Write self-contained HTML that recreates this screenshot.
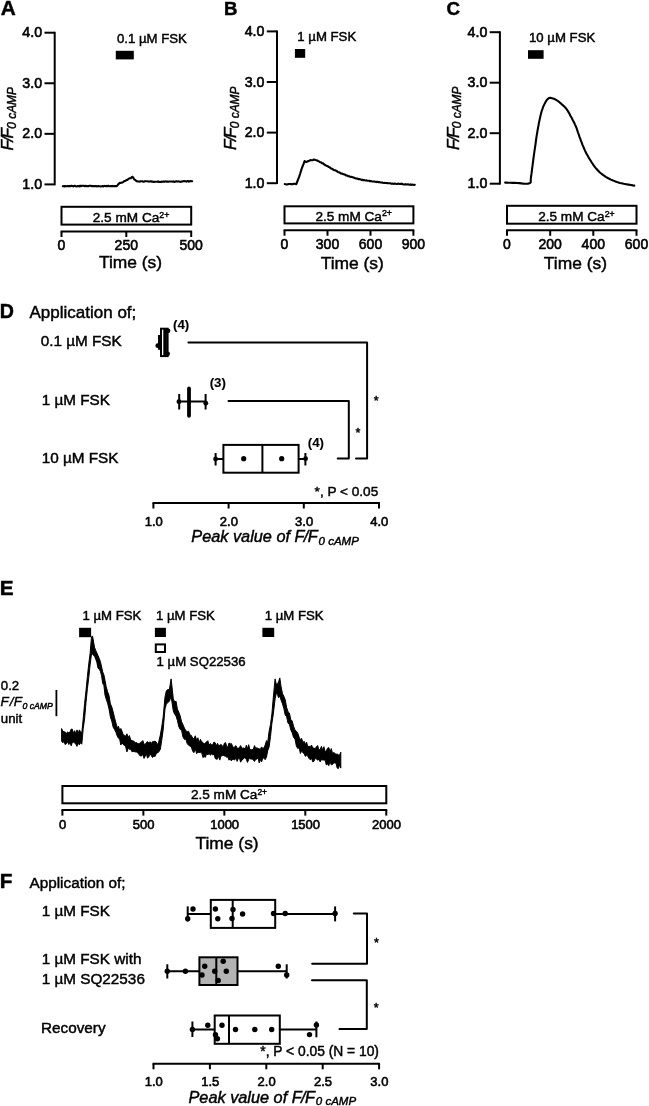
<!DOCTYPE html>
<html><head><meta charset="utf-8"><title>Figure</title>
<style>
html,body{margin:0;padding:0;background:#fff;}
svg{display:block;font-family:"Liberation Sans",Arial,sans-serif;fill:#000;}
text{stroke:#000;stroke-width:0.45px;}
.tk{stroke-width:0.6px;}
.b{stroke-width:0.1px;}
</style></head><body>
<svg width="649" height="1106" viewBox="0 0 649 1106">
<rect x="0" y="0" width="649" height="1106" fill="#fff"/>
<text x="0.8" y="15.1" font-size="20.8" text-anchor="start" font-weight="bold" font-style="normal" >A</text>
<line x1="54.7" y1="31.800000000000004" x2="54.7" y2="185.3" stroke="#000" stroke-width="2.0" />
<line x1="44.5" y1="32.7" x2="54.7" y2="32.7" stroke="#000" stroke-width="2.0" />
<text x="42.1" y="37.300000000000004" font-size="14.2" text-anchor="end" font-weight="normal" font-style="normal" class="tk">4.0</text>
<line x1="44.5" y1="83.26666666666667" x2="54.7" y2="83.26666666666667" stroke="#000" stroke-width="2.0" />
<text x="42.1" y="87.86666666666666" font-size="14.2" text-anchor="end" font-weight="normal" font-style="normal" class="tk">3.0</text>
<line x1="44.5" y1="133.83333333333331" x2="54.7" y2="133.83333333333331" stroke="#000" stroke-width="2.0" />
<text x="42.1" y="138.4333333333333" font-size="14.2" text-anchor="end" font-weight="normal" font-style="normal" class="tk">2.0</text>
<line x1="44.5" y1="184.39999999999998" x2="54.7" y2="184.39999999999998" stroke="#000" stroke-width="2.0" />
<text x="42.1" y="188.99999999999997" font-size="14.2" text-anchor="end" font-weight="normal" font-style="normal" class="tk">1.0</text>
<text transform="translate(13,150.5) rotate(-90)" font-style="italic" font-size="17.2"><tspan letter-spacing="-1.6">F/F</tspan><tspan font-size="11.9" dy="2.6" dx="0.8">0 cAMP</tspan></text>
<text x="117" y="42.7" font-size="13.2" text-anchor="start" font-weight="normal" font-style="normal" >0.1 µM FSK</text>
<rect x="115.8" y="50.8" width="18" height="8.6" fill="#000" stroke="none" stroke-width="2.0"/>
<polyline points="62.8,186.3 63.6,186.1 64.4,186.5 65.3,186.0 66.1,186.3 66.9,186.2 67.7,186.0 68.5,186.3 69.4,185.9 70.2,186.2 71.0,185.9 71.8,185.9 72.6,186.1 73.4,186.4 74.3,185.9 75.1,185.9 75.9,186.2 76.7,186.4 77.5,186.1 78.4,186.0 79.2,186.4 80.0,185.7 80.8,186.3 81.6,185.9 82.4,185.8 83.2,185.8 84.0,185.9 84.8,186.3 85.6,185.8 86.4,186.1 87.2,186.2 88.0,186.0 88.8,186.1 89.6,185.8 90.4,185.8 91.2,185.9 92.0,186.2 92.8,186.1 93.6,186.0 94.4,186.2 95.2,186.1 96.0,186.0 96.8,186.4 97.6,186.3 98.4,186.0 99.2,186.2 100.0,186.2 100.8,186.5 101.7,186.3 102.5,186.0 103.3,186.5 104.2,185.9 105.0,186.1 105.8,186.3 106.6,185.9 107.5,186.1 108.3,185.8 109.1,186.2 110.0,186.3 110.8,186.1 111.6,186.3 112.4,185.9 113.3,186.2 114.1,186.1 114.9,186.1 115.8,186.0 116.6,186.2 117.4,185.5 118.2,184.3 119.0,183.6 119.8,182.9 120.7,183.0 121.5,182.6 122.3,182.5 123.2,182.1 124.0,181.3 124.8,181.0 125.6,180.8 126.4,180.0 127.2,179.9 128.0,179.3 128.9,178.7 129.8,178.2 130.8,178.2 131.7,177.2 132.6,176.8 133.6,178.2 134.5,179.8 135.5,180.1 136.5,181.2 137.3,181.3 138.2,181.5 139.0,181.5 139.9,181.6 140.7,181.2 141.6,181.3 142.4,181.3 143.2,181.7 144.1,181.7 144.9,181.2 145.8,181.2 146.6,181.3 147.5,181.3 148.3,181.5 149.2,181.6 150.0,181.4 150.8,181.3 151.6,181.6 152.4,181.5 153.2,181.7 154.0,182.0 154.8,181.8 155.6,181.7 156.4,181.7 157.2,181.8 158.0,181.4 158.8,182.0 159.6,181.9 160.4,182.0 161.2,181.9 162.0,181.6 162.8,181.7 163.6,181.5 164.4,181.8 165.2,181.4 166.0,181.5 166.8,181.6 167.6,181.5 168.4,181.7 169.2,181.5 170.0,181.5 170.8,181.5 171.6,181.5 172.5,181.6 173.3,181.4 174.1,182.0 174.9,181.7 175.8,181.4 176.6,181.4 177.4,181.5 178.2,181.5 179.0,181.3 179.9,181.8 180.7,181.9 181.5,181.5 182.3,181.5 183.2,181.2 184.0,181.1 184.8,181.3 185.6,181.2 186.4,181.6 187.3,181.1 188.1,181.0 188.9,181.6 189.7,181.3 190.6,181.0 191.4,181.3 192.2,181.2" fill="none" stroke="#000" stroke-width="2.1" stroke-linejoin="round" stroke-linecap="round" />
<rect x="61.5" y="206.8" width="129.7" height="17.799999999999983" fill="#fff" stroke="#000" stroke-width="2.0"/>
<text x="131.04999999999998" y="222.0" font-size="13.6" text-anchor="middle">2.5 mM Ca<tspan font-size="8.8" dy="-4.5">2+</tspan></text>
<line x1="60.6" y1="231.5" x2="192.1" y2="231.5" stroke="#000" stroke-width="2.0" />
<line x1="61.5" y1="231.5" x2="61.5" y2="237.0" stroke="#000" stroke-width="2.0" />
<text x="61.5" y="250.2" font-size="14.0" text-anchor="middle" font-weight="normal" font-style="normal" class="tk">0</text>
<line x1="126.3" y1="231.5" x2="126.3" y2="237.0" stroke="#000" stroke-width="2.0" />
<text x="126.3" y="250.2" font-size="14.0" text-anchor="middle" font-weight="normal" font-style="normal" class="tk">250</text>
<line x1="191.2" y1="231.5" x2="191.2" y2="237.0" stroke="#000" stroke-width="2.0" />
<text x="191.2" y="250.2" font-size="14.0" text-anchor="middle" font-weight="normal" font-style="normal" class="tk">500</text>
<text x="130.5" y="268" font-size="17.4" text-anchor="middle" font-weight="normal" font-style="normal" >Time (s)</text>
<text x="223.9" y="14.8" font-size="18.6" text-anchor="start" font-weight="bold" font-style="normal" >B</text>
<line x1="277.0" y1="30.5" x2="277.0" y2="184.1" stroke="#000" stroke-width="2.0" />
<line x1="266.8" y1="31.4" x2="277.0" y2="31.4" stroke="#000" stroke-width="2.0" />
<text x="264.4" y="36.0" font-size="14.2" text-anchor="end" font-weight="normal" font-style="normal" class="tk">4.0</text>
<line x1="266.8" y1="82.0" x2="277.0" y2="82.0" stroke="#000" stroke-width="2.0" />
<text x="264.4" y="86.6" font-size="14.2" text-anchor="end" font-weight="normal" font-style="normal" class="tk">3.0</text>
<line x1="266.8" y1="132.6" x2="277.0" y2="132.6" stroke="#000" stroke-width="2.0" />
<text x="264.4" y="137.2" font-size="14.2" text-anchor="end" font-weight="normal" font-style="normal" class="tk">2.0</text>
<line x1="266.8" y1="183.2" x2="277.0" y2="183.2" stroke="#000" stroke-width="2.0" />
<text x="264.4" y="187.79999999999998" font-size="14.2" text-anchor="end" font-weight="normal" font-style="normal" class="tk">1.0</text>
<text transform="translate(236,150) rotate(-90)" font-style="italic" font-size="17.2"><tspan letter-spacing="-1.6">F/F</tspan><tspan font-size="11.9" dy="2.6" dx="0.8">0 cAMP</tspan></text>
<text x="297.3" y="40.6" font-size="13.2" text-anchor="start" font-weight="normal" font-style="normal" >1 µM FSK</text>
<rect x="294.9" y="49" width="10.3" height="8.8" fill="#000" stroke="none" stroke-width="2.0"/>
<polyline points="284.7,184.0 285.5,184.3 286.4,184.5 287.2,184.4 288.0,184.3 288.8,184.0 289.7,184.0 290.5,183.9 291.3,184.2 292.2,184.0 293.0,184.1 293.8,183.8 294.6,183.7 295.5,184.0 296.3,184.1 297.3,181.5 298.3,178.9 299.3,176.4 300.3,173.3 301.3,169.9 302.3,167.0 303.5,164.1 304.6,161.1 306.2,162.0 307.1,161.7 307.9,161.2 308.8,160.9 309.7,160.6 310.5,160.1 311.3,160.3 312.2,160.2 313.0,160.0 313.8,159.5 314.6,159.7 315.5,160.0 316.4,160.2 317.2,160.5 318.0,161.0 318.9,161.4 319.7,161.9 320.6,162.2 321.4,162.7 322.2,163.3 323.0,163.4 323.9,164.2 324.7,164.8 325.5,165.2 326.3,165.7 327.1,166.0 327.9,166.3 328.8,167.1 329.6,167.3 330.4,168.1 331.2,168.6 332.0,168.8 332.8,169.2 333.6,170.0 334.4,170.2 335.2,170.3 336.1,170.7 336.9,171.1 337.7,171.9 338.5,172.3 339.3,172.2 340.2,173.0 341.0,173.5 341.8,173.6 342.6,173.8 343.5,174.3 344.3,174.4 345.1,174.6 346.0,175.4 346.8,175.5 347.6,175.7 348.4,176.3 349.3,176.2 350.1,176.8 350.9,177.0 351.8,176.9 352.6,177.2 353.4,177.5 354.2,177.8 355.1,178.3 355.9,178.4 356.7,178.6 357.5,178.6 358.4,179.2 359.2,179.1 360.0,179.3 360.8,179.5 361.6,179.9 362.5,179.8 363.3,180.2 364.1,180.1 364.9,180.3 365.8,180.5 366.6,180.3 367.4,180.8 368.2,180.7 369.1,180.7 369.9,181.3 370.7,181.0 371.5,181.3 372.4,181.5 373.2,181.5 374.0,181.5 374.9,181.7 375.7,181.8 376.5,182.1 377.3,181.8 378.2,182.1 379.0,182.0 379.8,182.2 380.7,182.5 381.5,182.5 382.3,182.6 383.1,182.8 384.0,183.0 384.8,182.8 385.6,183.0 386.5,183.0 387.3,183.1 388.1,183.3 388.9,183.2 389.8,183.3 390.6,183.4 391.4,183.7 392.2,183.6 393.1,183.8 393.9,183.9 394.7,183.5 395.5,183.7 396.4,184.0 397.2,184.0 398.0,183.6 398.8,183.7 399.6,183.9 400.5,183.7 401.3,183.9 402.1,183.8 402.9,184.2 403.8,184.4 404.6,184.5 405.5,184.1 406.3,184.5 407.2,184.5 408.0,184.2 408.9,184.7 409.7,184.8 410.6,184.4 411.4,184.9 412.3,184.6 413.1,184.7 414.0,185.0 414.8,184.8" fill="none" stroke="#000" stroke-width="2.1" stroke-linejoin="round" stroke-linecap="round" />
<rect x="284.5" y="206.3" width="128.89999999999998" height="17.099999999999994" fill="#fff" stroke="#000" stroke-width="2.0"/>
<text x="353.65" y="220.8" font-size="13.6" text-anchor="middle">2.5 mM Ca<tspan font-size="8.8" dy="-4.5">2+</tspan></text>
<line x1="283.6" y1="230.2" x2="414.29999999999995" y2="230.2" stroke="#000" stroke-width="2.0" />
<line x1="284.5" y1="230.2" x2="284.5" y2="235.7" stroke="#000" stroke-width="2.0" />
<text x="284.5" y="248.89999999999998" font-size="14.0" text-anchor="middle" font-weight="normal" font-style="normal" class="tk">0</text>
<line x1="327.5" y1="230.2" x2="327.5" y2="235.7" stroke="#000" stroke-width="2.0" />
<text x="327.5" y="248.89999999999998" font-size="14.0" text-anchor="middle" font-weight="normal" font-style="normal" class="tk">300</text>
<line x1="370.5" y1="230.2" x2="370.5" y2="235.7" stroke="#000" stroke-width="2.0" />
<text x="370.5" y="248.89999999999998" font-size="14.0" text-anchor="middle" font-weight="normal" font-style="normal" class="tk">600</text>
<line x1="413.4" y1="230.2" x2="413.4" y2="235.7" stroke="#000" stroke-width="2.0" />
<text x="413.4" y="248.89999999999998" font-size="14.0" text-anchor="middle" font-weight="normal" font-style="normal" class="tk">900</text>
<text x="352.3" y="268.6" font-size="17.4" text-anchor="middle" font-weight="normal" font-style="normal" >Time (s)</text>
<text x="446.4" y="15.3" font-size="18.8" text-anchor="start" font-weight="bold" font-style="normal" >C</text>
<line x1="499.9" y1="31.300000000000004" x2="499.9" y2="184.6" stroke="#000" stroke-width="2.0" />
<line x1="489.7" y1="32.2" x2="499.9" y2="32.2" stroke="#000" stroke-width="2.0" />
<text x="487.29999999999995" y="36.800000000000004" font-size="14.2" text-anchor="end" font-weight="normal" font-style="normal" class="tk">4.0</text>
<line x1="489.7" y1="82.7" x2="499.9" y2="82.7" stroke="#000" stroke-width="2.0" />
<text x="487.29999999999995" y="87.3" font-size="14.2" text-anchor="end" font-weight="normal" font-style="normal" class="tk">3.0</text>
<line x1="489.7" y1="133.2" x2="499.9" y2="133.2" stroke="#000" stroke-width="2.0" />
<text x="487.29999999999995" y="137.79999999999998" font-size="14.2" text-anchor="end" font-weight="normal" font-style="normal" class="tk">2.0</text>
<line x1="489.7" y1="183.7" x2="499.9" y2="183.7" stroke="#000" stroke-width="2.0" />
<text x="487.29999999999995" y="188.29999999999998" font-size="14.2" text-anchor="end" font-weight="normal" font-style="normal" class="tk">1.0</text>
<text transform="translate(458.8,150) rotate(-90)" font-style="italic" font-size="17.2"><tspan letter-spacing="-1.6">F/F</tspan><tspan font-size="11.9" dy="2.6" dx="0.8">0 cAMP</tspan></text>
<text x="529" y="42.3" font-size="13.2" text-anchor="start" font-weight="normal" font-style="normal" >10 µM FSK</text>
<rect x="528" y="50.2" width="15.6" height="8.6" fill="#000" stroke="none" stroke-width="2.0"/>
<polyline points="505.1,182.6 506.4,182.6 508.2,182.7 510.3,182.8 512.6,182.9 514.9,182.9 517.0,183.0 519.2,183.1 521.5,183.4 523.8,183.6 526.0,183.7 528.0,183.6 529.4,183.3 530.3,182.8 530.7,182.3 530.8,181.6 530.7,180.6 530.8,179.0 531.0,176.8 531.5,173.7 532.0,169.7 532.6,165.2 533.2,160.5 533.8,155.9 534.4,151.6 535.0,147.6 535.6,143.5 536.1,139.5 536.7,135.7 537.3,132.0 537.9,128.6 538.5,125.4 539.0,122.5 539.6,119.7 540.2,117.1 540.7,114.7 541.3,112.5 541.9,110.5 542.5,108.8 543.0,107.2 543.6,105.9 544.2,104.6 544.8,103.4 545.4,102.3 545.9,101.3 546.5,100.5 547.1,99.7 547.6,99.1 548.2,98.6 548.8,98.2 549.3,98.0 549.9,97.9 550.5,97.9 551.1,98.0 551.7,98.1 552.4,98.2 553.1,98.5 553.9,98.7 554.7,99.1 555.4,99.5 556.2,99.9 556.9,100.4 557.7,100.9 558.4,101.4 559.2,102.0 560.0,102.7 560.8,103.4 561.7,104.2 562.7,105.1 563.7,106.0 564.7,106.9 565.7,108.0 566.6,109.1 567.4,110.3 568.2,111.6 569.0,112.9 569.7,114.3 570.4,115.7 571.2,117.1 572.0,118.5 572.7,120.0 573.5,121.4 574.3,122.9 575.0,124.6 575.8,126.3 576.6,128.2 577.3,130.3 578.0,132.5 578.8,134.7 579.5,136.8 580.3,138.9 581.0,140.9 581.8,142.9 582.5,144.8 583.3,146.7 584.1,148.6 584.9,150.4 585.8,152.2 586.7,154.0 587.7,155.8 588.7,157.6 589.7,159.2 590.7,160.8 591.6,162.3 592.6,163.7 593.5,165.1 594.4,166.3 595.4,167.6 596.4,168.8 597.5,170.0 598.5,171.1 599.6,172.2 600.8,173.2 602.0,174.2 603.3,175.2 604.7,176.1 606.2,177.1 607.8,178.0 609.3,178.8 610.9,179.6 612.5,180.3 614.0,180.9 615.4,181.5 616.9,182.0 618.4,182.4 620.0,182.9 621.7,183.3 623.7,183.8 626.1,184.2 628.6,184.6 630.9,185.0 632.9,185.4 634.3,185.6" fill="none" stroke="#000" stroke-width="2.1" stroke-linejoin="round" stroke-linecap="round" />
<rect x="507" y="205.8" width="129.5" height="17.899999999999977" fill="#fff" stroke="#000" stroke-width="2.0"/>
<text x="576.45" y="221.1" font-size="13.6" text-anchor="middle">2.5 mM Ca<tspan font-size="8.8" dy="-4.5">2+</tspan></text>
<line x1="506.1" y1="230.3" x2="637.4" y2="230.3" stroke="#000" stroke-width="2.0" />
<line x1="507" y1="230.3" x2="507" y2="235.8" stroke="#000" stroke-width="2.0" />
<text x="507" y="249.0" font-size="14.0" text-anchor="middle" font-weight="normal" font-style="normal" class="tk">0</text>
<line x1="550.2" y1="230.3" x2="550.2" y2="235.8" stroke="#000" stroke-width="2.0" />
<text x="550.2" y="249.0" font-size="14.0" text-anchor="middle" font-weight="normal" font-style="normal" class="tk">200</text>
<line x1="593.3" y1="230.3" x2="593.3" y2="235.8" stroke="#000" stroke-width="2.0" />
<text x="593.3" y="249.0" font-size="14.0" text-anchor="middle" font-weight="normal" font-style="normal" class="tk">400</text>
<line x1="636.5" y1="230.3" x2="636.5" y2="235.8" stroke="#000" stroke-width="2.0" />
<text x="636.5" y="249.0" font-size="14.0" text-anchor="middle" font-weight="normal" font-style="normal" class="tk">600</text>
<text x="575.4" y="268.5" font-size="17.4" text-anchor="middle" font-weight="normal" font-style="normal" >Time (s)</text>
<text x="-0.2" y="317.7" font-size="19.6" text-anchor="start" font-weight="bold" font-style="normal" >D</text>
<text x="29.5" y="317.8" font-size="17" text-anchor="start" font-weight="normal" font-style="normal" >Application of;</text>
<text x="40.7" y="346" font-size="15.3" text-anchor="start" font-weight="normal" font-style="normal" >0.1 µM FSK</text>
<text x="41.7" y="404.6" font-size="15.3" text-anchor="start" font-weight="normal" font-style="normal" >1 µM FSK</text>
<text x="41.7" y="463.4" font-size="15.3" text-anchor="start" font-weight="normal" font-style="normal" >10 µM FSK</text>
<rect x="161" y="328.7" width="6.6" height="27.4" fill="#fff" stroke="#000" stroke-width="2.0"/>
<line x1="165.1" y1="328" x2="165.1" y2="357" stroke="#000" stroke-width="3.6" />
<line x1="159.3" y1="335" x2="159.3" y2="349.8" stroke="#000" stroke-width="2.6" />
<circle cx="168" cy="330.8" r="2.4" fill="#000"/>
<circle cx="157.8" cy="345.7" r="2.4" fill="#000"/>
<circle cx="167.6" cy="353.8" r="2.4" fill="#000"/>
<text x="173" y="329.4" font-size="13.3" text-anchor="start" font-weight="bold" font-style="normal" class="b">(4)</text>
<line x1="179.2" y1="401.5" x2="205.6" y2="401.5" stroke="#000" stroke-width="2.0" />
<line x1="179.2" y1="394" x2="179.2" y2="409.5" stroke="#000" stroke-width="2.0" />
<line x1="205.6" y1="394" x2="205.6" y2="409.5" stroke="#000" stroke-width="2.0" />
<line x1="189" y1="388.5" x2="189" y2="415.8" stroke="#000" stroke-width="3.8" stroke-linecap="round"/>
<circle cx="178.9" cy="401.7" r="2.4" fill="#000"/>
<circle cx="205.8" cy="403.2" r="2.4" fill="#000"/>
<text x="209.7" y="387.3" font-size="13.3" text-anchor="start" font-weight="bold" font-style="normal" class="b">(3)</text>
<rect x="223.4" y="444.9" width="75.2" height="27.8" fill="#fff" stroke="#000" stroke-width="2.0"/>
<line x1="262.4" y1="444.9" x2="262.4" y2="472.7" stroke="#000" stroke-width="2.0" />
<line x1="215.6" y1="459" x2="223.4" y2="459" stroke="#000" stroke-width="2.0" />
<line x1="298.6" y1="459" x2="305.4" y2="459" stroke="#000" stroke-width="2.0" />
<line x1="215.6" y1="453" x2="215.6" y2="465.5" stroke="#000" stroke-width="2.0" />
<line x1="305.4" y1="453" x2="305.4" y2="465.5" stroke="#000" stroke-width="2.0" />
<circle cx="215.6" cy="459" r="2.4" fill="#000"/>
<circle cx="243.7" cy="458.7" r="2.6" fill="#000"/>
<circle cx="281.7" cy="458.7" r="2.6" fill="#000"/>
<circle cx="305.6" cy="458.7" r="2.4" fill="#000"/>
<text x="307.8" y="446.6" font-size="13.3" text-anchor="start" font-weight="bold" font-style="normal" class="b">(4)</text>
<polyline points="188.4,342.4 367.1,342.4 367.1,458.6 356.0,458.6" fill="none" stroke="#000" stroke-width="2.0" stroke-linejoin="round" stroke-linecap="round" stroke-linejoin="miter" stroke-linecap="butt"/>
<polyline points="228.5,400.9 348.8,400.9 348.8,458.6 337.7,458.6" fill="none" stroke="#000" stroke-width="2.0" stroke-linejoin="round" stroke-linecap="round" stroke-linejoin="miter" stroke-linecap="butt"/>
<text x="376.3" y="404.8" font-size="12.6" text-anchor="middle" font-weight="normal" font-style="normal" >*</text>
<text x="357.9" y="437" font-size="12.6" text-anchor="middle" font-weight="normal" font-style="normal" >*</text>
<text x="314.6" y="496.4" font-size="13.6" text-anchor="start" font-weight="normal" font-style="normal" >*, P &lt; 0.05</text>
<line x1="152.5" y1="503" x2="379.9" y2="503" stroke="#000" stroke-width="2.0" />
<line x1="153.4" y1="503" x2="153.4" y2="508.5" stroke="#000" stroke-width="2.0" />
<text x="153.70000000000002" y="525.7" font-size="13.0" text-anchor="middle" font-weight="normal" font-style="normal" class="tk">1.0</text>
<line x1="228.60000000000002" y1="503" x2="228.60000000000002" y2="508.5" stroke="#000" stroke-width="2.0" />
<text x="228.90000000000003" y="525.7" font-size="13.0" text-anchor="middle" font-weight="normal" font-style="normal" class="tk">2.0</text>
<line x1="303.8" y1="503" x2="303.8" y2="508.5" stroke="#000" stroke-width="2.0" />
<text x="304.1" y="525.7" font-size="13.0" text-anchor="middle" font-weight="normal" font-style="normal" class="tk">3.0</text>
<line x1="379.0" y1="503" x2="379.0" y2="508.5" stroke="#000" stroke-width="2.0" />
<text x="379.3" y="525.7" font-size="13.0" text-anchor="middle" font-weight="normal" font-style="normal" class="tk">4.0</text>
<text x="191.3" y="542" font-style="italic" font-size="16.3">Peak value of <tspan letter-spacing="-0.6">F/F</tspan><tspan font-size="11.5" dy="2.5" dx="1.5">0 cAMP</tspan></text>
<text x="-0.3" y="595.4" font-size="20.8" text-anchor="start" font-weight="bold" font-style="normal" >E</text>
<text x="82.4" y="619.8" font-size="13.2" text-anchor="start" font-weight="normal" font-style="normal" >1 µM FSK</text>
<rect x="79.1" y="627.8" width="12" height="9.4" fill="#000" stroke="none" stroke-width="2.0"/>
<text x="156" y="619.8" font-size="13.2" text-anchor="start" font-weight="normal" font-style="normal" >1 µM FSK</text>
<rect x="154.9" y="627.8" width="11" height="9.2" fill="#000" stroke="none" stroke-width="2.0"/>
<rect x="155.8" y="644.4" width="9.2" height="7.6" fill="#fff" stroke="#000" stroke-width="2.0"/>
<text x="156.6" y="666" font-size="13.2" text-anchor="start" font-weight="normal" font-style="normal" >1 µM SQ22536</text>
<text x="264.7" y="620.1" font-size="13.2" text-anchor="start" font-weight="normal" font-style="normal" >1 µM FSK</text>
<rect x="262.4" y="627.8" width="11.8" height="9.2" fill="#000" stroke="none" stroke-width="2.0"/>
<text x="0.8" y="690" font-size="13.2" text-anchor="start" font-weight="normal" font-style="normal" >0.2</text>
<text x="0.5" y="706.4" font-style="italic" font-size="13.3">F<tspan dx="1">/</tspan><tspan dx="0.5">F</tspan><tspan font-size="8.7" dy="2.2" dx="0.5">0 cAMP</tspan></text>
<text x="0.8" y="723.4" font-size="13.2" text-anchor="start" font-weight="normal" font-style="normal" >unit</text>
<line x1="56.4" y1="690" x2="56.4" y2="716.2" stroke="#000" stroke-width="1.8" />
<path d="M61.6,728.6 L62.8,731.2 L64.0,731.8 L65.2,732.1 L66.4,733.2 L67.6,732.0 L68.8,732.7 L70.0,732.1 L71.2,729.1 L72.3,729.2 L73.5,733.4 L74.7,730.7 L75.8,733.9 L77.0,729.9 L78.2,733.6 L79.3,729.9 L80.5,731.5 L81.8,732.8 L83.2,719.0 L84.6,703.4 L86.0,690.6 L87.4,676.4 L88.8,663.4 L90.1,653.5 L91.5,636.9 L92.5,635.9 L94.5,647.3 L95.7,650.4 L96.9,653.0 L98.0,655.5 L99.2,658.3 L100.4,661.5 L101.6,666.9 L102.7,671.9 L103.9,674.9 L105.0,680.3 L106.2,686.7 L107.6,691.7 L109.0,695.6 L110.4,703.8 L111.8,707.0 L113.2,712.1 L114.5,717.4 L115.9,722.9 L117.3,727.7 L118.5,726.2 L119.7,730.6 L120.8,728.5 L122.0,731.2 L123.2,734.8 L124.4,735.3 L125.7,736.2 L126.9,733.8 L128.2,737.4 L129.4,735.5 L130.7,740.0 L132.0,740.7 L133.2,740.9 L134.5,741.7 L135.7,743.0 L136.9,742.6 L138.0,744.0 L139.2,743.6 L140.4,742.4 L141.6,741.9 L142.8,740.6 L144.0,744.0 L145.1,744.8 L146.3,742.6 L147.5,741.6 L148.8,742.9 L150.0,741.7 L151.2,743.5 L152.5,741.6 L153.8,741.6 L155.0,741.2 L156.2,742.0 L157.3,744.4 L158.5,742.8 L160.3,735.1 L161.7,727.2 L163.1,717.6 L165.0,696.9 L166.3,691.0 L167.7,689.5 L169.4,689.6 L171.1,678.9 L173.3,698.7 L174.7,702.2 L176.0,701.1 L177.4,709.2 L178.8,712.1 L180.2,716.0 L181.6,721.8 L183.0,724.8 L184.4,728.1 L185.8,730.6 L187.2,731.7 L188.6,731.3 L190.0,735.1 L191.3,735.4 L192.6,737.9 L193.9,738.8 L195.3,735.8 L196.6,739.9 L197.9,737.8 L199.2,743.0 L200.4,739.3 L201.7,741.8 L202.9,742.4 L204.1,744.2 L205.4,742.8 L206.6,741.9 L207.8,740.7 L209.1,745.1 L210.3,743.6 L211.5,744.7 L212.8,744.7 L214.0,742.0 L215.2,742.8 L216.3,745.9 L217.5,743.3 L218.6,745.6 L219.8,745.3 L220.9,744.4 L222.1,745.4 L223.2,746.8 L224.4,743.2 L225.6,742.6 L226.7,746.6 L227.9,747.0 L229.0,742.9 L230.2,744.0 L231.3,743.4 L232.5,745.9 L233.7,748.0 L234.8,746.6 L236.0,745.7 L237.1,748.3 L238.3,748.3 L239.4,747.6 L240.6,745.6 L241.8,748.2 L242.9,748.2 L244.1,747.9 L245.2,749.0 L246.4,745.1 L247.5,749.0 L248.7,744.7 L249.8,749.5 L251.0,749.8 L252.2,749.7 L253.4,749.1 L254.5,745.6 L255.7,748.4 L256.9,747.7 L258.1,748.6 L259.2,748.8 L260.4,749.2 L261.6,746.9 L262.8,748.4 L264.0,747.8 L265.2,745.0 L266.5,740.6 L267.7,742.6 L269.1,731.3 L270.5,724.3 L271.9,713.9 L273.3,697.4 L275.1,678.9 L276.3,684.3 L277.5,684.1 L278.6,681.8 L279.8,677.9 L281.1,687.0 L282.5,693.7 L283.9,696.4 L285.2,699.6 L286.6,707.3 L288.0,711.7 L289.4,713.0 L290.8,719.5 L292.2,721.0 L293.6,726.4 L295.0,729.9 L296.4,731.3 L297.8,733.3 L299.2,737.3 L300.4,739.6 L301.7,738.5 L302.9,742.7 L304.1,741.2 L305.4,744.6 L306.6,742.1 L307.8,746.9 L309.1,746.0 L310.3,747.3 L311.5,745.0 L312.8,748.1 L314.0,748.1 L315.2,748.8 L316.5,746.5 L317.7,745.6 L318.9,750.1 L320.2,749.4 L321.4,746.4 L322.6,750.0 L323.9,746.7 L325.1,751.7 L326.3,750.8 L327.6,748.2 L328.8,747.6 L330.0,751.9 L331.3,748.6 L332.5,753.4 L333.7,752.6 L334.9,753.2 L336.1,754.5 L337.2,753.8 L338.4,755.0 L339.6,755.1 L340.8,752.2 L340.8,768.1 L339.6,764.9 L338.4,768.5 L337.2,768.1 L336.1,763.5 L334.9,762.7 L333.7,763.2 L332.5,764.5 L331.3,764.8 L330.0,761.5 L328.8,765.7 L327.6,763.9 L326.3,764.9 L325.1,760.1 L323.9,760.0 L322.6,760.0 L321.4,759.5 L320.2,761.9 L318.9,759.2 L317.7,760.3 L316.5,758.9 L315.2,758.1 L314.0,761.2 L312.8,761.9 L311.5,758.3 L310.3,759.8 L309.1,758.6 L307.8,756.2 L306.6,755.3 L305.4,756.4 L304.1,753.6 L302.9,752.8 L301.7,750.6 L300.4,753.5 L299.2,747.7 L297.8,748.6 L296.4,746.2 L295.0,739.0 L293.6,737.6 L292.2,732.8 L290.8,729.9 L289.4,724.4 L288.0,723.2 L286.6,716.6 L285.2,715.0 L283.9,708.7 L282.5,703.9 L281.1,700.2 L279.8,695.9 L278.6,697.8 L277.5,694.6 L276.3,693.3 L275.1,698.8 L273.3,714.2 L271.9,723.4 L270.5,736.5 L269.1,747.0 L267.7,750.8 L266.5,757.1 L265.2,759.7 L264.0,758.0 L262.8,757.9 L261.6,761.9 L260.4,759.6 L259.2,762.9 L258.1,757.9 L256.9,759.1 L255.7,759.3 L254.5,761.4 L253.4,760.3 L252.2,758.7 L251.0,759.2 L249.8,758.4 L248.7,759.5 L247.5,762.4 L246.4,759.5 L245.2,758.0 L244.1,757.7 L242.9,759.5 L241.8,760.0 L240.6,762.2 L239.4,757.7 L238.3,758.5 L237.1,761.4 L236.0,757.3 L234.8,759.9 L233.7,759.6 L232.5,759.4 L231.3,760.9 L230.2,758.6 L229.0,760.2 L227.9,756.8 L226.7,757.4 L225.6,756.0 L224.4,756.0 L223.2,755.3 L222.1,755.8 L220.9,756.0 L219.8,760.1 L218.6,755.8 L217.5,759.1 L216.3,759.2 L215.2,758.4 L214.0,754.1 L212.8,754.9 L211.5,754.0 L210.3,755.2 L209.1,753.4 L207.8,755.0 L206.6,753.6 L205.4,757.3 L204.1,756.6 L202.9,757.5 L201.7,752.6 L200.4,752.6 L199.2,752.4 L197.9,752.4 L196.6,753.7 L195.3,748.6 L193.9,752.7 L192.6,750.9 L191.3,746.9 L190.0,746.1 L188.6,745.3 L187.2,743.6 L185.8,738.9 L184.4,739.4 L183.0,737.1 L181.6,730.4 L180.2,729.4 L178.8,726.7 L177.4,720.4 L176.0,716.0 L174.7,714.3 L173.3,711.0 L171.1,696.2 L169.4,701.3 L167.7,702.6 L166.3,704.3 L165.0,708.9 L163.1,730.4 L161.7,740.5 L160.3,749.4 L158.5,752.3 L157.3,752.9 L156.2,753.7 L155.0,756.6 L153.8,756.0 L152.5,757.5 L151.2,755.5 L150.0,753.9 L148.8,757.0 L147.5,758.1 L146.3,753.5 L145.1,756.6 L144.0,758.4 L142.8,754.2 L141.6,756.0 L140.4,756.1 L139.2,754.8 L138.0,753.1 L136.9,752.1 L135.7,752.0 L134.5,751.7 L133.2,751.4 L132.0,751.8 L130.7,749.2 L129.4,749.3 L128.2,748.2 L126.9,751.9 L125.7,746.7 L124.4,745.4 L123.2,744.5 L122.0,742.9 L120.8,745.0 L119.7,739.2 L118.5,738.3 L117.3,736.2 L115.9,732.2 L114.5,729.5 L113.2,727.3 L111.8,721.2 L110.4,716.9 L109.0,708.9 L107.6,703.2 L106.2,699.1 L105.0,695.0 L103.9,685.5 L102.7,683.5 L101.6,675.8 L100.4,671.2 L99.2,669.2 L98.0,668.1 L96.9,662.6 L95.7,659.0 L94.5,656.3 L92.5,654.2 L91.5,653.8 L90.1,664.9 L88.8,677.3 L87.4,688.7 L86.0,702.5 L84.6,718.8 L83.2,728.7 L81.8,744.2 L80.5,742.7 L79.3,744.9 L78.2,742.8 L77.0,746.4 L75.8,743.9 L74.7,743.1 L73.5,742.3 L72.3,742.4 L71.2,745.9 L70.0,742.2 L68.8,744.5 L67.6,741.7 L66.4,743.7 L65.2,744.6 L64.0,741.5 L62.8,742.8 L61.6,741.0 Z" fill="#000" stroke="#000" stroke-width="1.0" stroke-linejoin="miter"/>
<rect x="62.4" y="786" width="323.9" height="17.3" fill="#fff" stroke="#000" stroke-width="2.0"/>
<text x="190.9" y="799.4" font-size="13.6">2.5 mM Ca<tspan font-size="8.5" dy="-4.5">2+</tspan></text>
<line x1="61.5" y1="810" x2="387.2" y2="810" stroke="#000" stroke-width="2.0" />
<line x1="62.4" y1="810" x2="62.4" y2="815.6" stroke="#000" stroke-width="2.0" />
<text x="62.699999999999996" y="828.6" font-size="13.0" text-anchor="middle" font-weight="normal" font-style="normal" class="tk">0</text>
<line x1="143.37" y1="810" x2="143.37" y2="815.6" stroke="#000" stroke-width="2.0" />
<text x="143.67000000000002" y="828.6" font-size="13.0" text-anchor="middle" font-weight="normal" font-style="normal" class="tk">500</text>
<line x1="224.34" y1="810" x2="224.34" y2="815.6" stroke="#000" stroke-width="2.0" />
<text x="224.64000000000001" y="828.6" font-size="13.0" text-anchor="middle" font-weight="normal" font-style="normal" class="tk">1000</text>
<line x1="305.31" y1="810" x2="305.31" y2="815.6" stroke="#000" stroke-width="2.0" />
<text x="305.61" y="828.6" font-size="13.0" text-anchor="middle" font-weight="normal" font-style="normal" class="tk">1500</text>
<line x1="386.28" y1="810" x2="386.28" y2="815.6" stroke="#000" stroke-width="2.0" />
<text x="386.58" y="828.6" font-size="13.0" text-anchor="middle" font-weight="normal" font-style="normal" class="tk">2000</text>
<text x="227.1" y="848.6" font-size="17.4" text-anchor="middle" font-weight="normal" font-style="normal" >Time (s)</text>
<text x="-0.3" y="887.6" font-size="20.8" text-anchor="start" font-weight="bold" font-style="normal" >F</text>
<text x="29.5" y="888.1" font-size="15.3" text-anchor="start" font-weight="normal" font-style="normal" >Application of;</text>
<text x="41.7" y="916" font-size="15.3" text-anchor="start" font-weight="normal" font-style="normal" >1 µM FSK</text>
<text x="41.7" y="964.4" font-size="15.3" text-anchor="start" font-weight="normal" font-style="normal" >1 µM FSK with</text>
<text x="41.7" y="983.7" font-size="15.3" text-anchor="start" font-weight="normal" font-style="normal" >1 µM SQ22536</text>
<text x="41" y="1033.1" font-size="15.3" text-anchor="start" font-weight="normal" font-style="normal" >Recovery</text>
<line x1="187.7" y1="913.9" x2="335.1" y2="913.9" stroke="#000" stroke-width="2.0" />
<line x1="187.7" y1="906.4" x2="187.7" y2="921.4" stroke="#000" stroke-width="2.0" />
<line x1="335.1" y1="906.4" x2="335.1" y2="921.4" stroke="#000" stroke-width="2.0" />
<rect x="210.8" y="899.9" width="64.4" height="28.0" fill="#fff" stroke="#000" stroke-width="2.0"/>
<line x1="232.7" y1="899.9" x2="232.7" y2="927.9" stroke="#000" stroke-width="2.0" />
<circle cx="193" cy="909" r="2.7" fill="#000"/>
<circle cx="187.7" cy="918.7" r="2.7" fill="#000"/>
<circle cx="215.4" cy="909" r="2.7" fill="#000"/>
<circle cx="217.8" cy="918.7" r="2.7" fill="#000"/>
<circle cx="233" cy="909.5" r="2.7" fill="#000"/>
<circle cx="232" cy="918.5" r="2.7" fill="#000"/>
<circle cx="242.6" cy="914" r="2.7" fill="#000"/>
<circle cx="273.5" cy="913.5" r="2.7" fill="#000"/>
<circle cx="285.2" cy="913.5" r="2.7" fill="#000"/>
<circle cx="335.1" cy="913.5" r="2.7" fill="#000"/>
<line x1="167.3" y1="971.2" x2="286.7" y2="971.2" stroke="#000" stroke-width="2.0" />
<line x1="167.3" y1="964.3" x2="167.3" y2="978.5" stroke="#000" stroke-width="2.0" />
<line x1="286.7" y1="964.3" x2="286.7" y2="978.5" stroke="#000" stroke-width="2.0" />
<rect x="199.4" y="957.3" width="38.1" height="27.7" fill="#b3b3b3" stroke="#000" stroke-width="2.0"/>
<line x1="216.3" y1="957.3" x2="216.3" y2="985" stroke="#000" stroke-width="2.0" />
<circle cx="167.3" cy="971.2" r="2.7" fill="#000"/>
<circle cx="185.4" cy="971.2" r="2.7" fill="#000"/>
<circle cx="204.7" cy="966.2" r="2.7" fill="#000"/>
<circle cx="202" cy="975" r="2.7" fill="#000"/>
<circle cx="214.7" cy="971.2" r="2.7" fill="#000"/>
<circle cx="223.2" cy="961.2" r="2.7" fill="#000"/>
<circle cx="226.3" cy="971.2" r="2.7" fill="#000"/>
<circle cx="218.2" cy="980.4" r="2.7" fill="#000"/>
<circle cx="278.3" cy="966.2" r="2.7" fill="#000"/>
<circle cx="286.7" cy="975" r="2.7" fill="#000"/>
<line x1="192.4" y1="1029.5" x2="316.4" y2="1029.5" stroke="#000" stroke-width="2.0" />
<line x1="192.4" y1="1021.5" x2="192.4" y2="1037" stroke="#000" stroke-width="2.0" />
<line x1="316.4" y1="1021.5" x2="316.4" y2="1037.3" stroke="#000" stroke-width="2.0" />
<rect x="214.7" y="1015.5" width="65.1" height="28.3" fill="#fff" stroke="#000" stroke-width="2.0"/>
<line x1="229" y1="1015.5" x2="229" y2="1043.8" stroke="#000" stroke-width="2.0" />
<circle cx="192.4" cy="1029.5" r="2.7" fill="#000"/>
<circle cx="207.8" cy="1025.2" r="2.7" fill="#000"/>
<circle cx="222" cy="1025.2" r="2.7" fill="#000"/>
<circle cx="215.5" cy="1034.8" r="2.7" fill="#000"/>
<circle cx="217.4" cy="1038.8" r="2.7" fill="#000"/>
<circle cx="235.5" cy="1029.5" r="2.7" fill="#000"/>
<circle cx="254.8" cy="1029.5" r="2.7" fill="#000"/>
<circle cx="271.7" cy="1029.5" r="2.7" fill="#000"/>
<circle cx="316.4" cy="1025" r="2.7" fill="#000"/>
<circle cx="309.5" cy="1034.6" r="2.7" fill="#000"/>
<polyline points="353.8,913.5 367.0,913.5 367.0,963.8 312.2,963.8" fill="none" stroke="#000" stroke-width="2.0" stroke-linejoin="round" stroke-linecap="round" stroke-linejoin="miter" stroke-linecap="butt"/>
<polyline points="312.0,980.2 366.8,980.2 366.8,1028.9 339.5,1028.9" fill="none" stroke="#000" stroke-width="2.0" stroke-linejoin="round" stroke-linecap="round" stroke-linejoin="miter" stroke-linecap="butt"/>
<text x="376.5" y="946.7" font-size="12.6" text-anchor="middle" font-weight="normal" font-style="normal" >*</text>
<text x="376.2" y="1011.6" font-size="12.6" text-anchor="middle" font-weight="normal" font-style="normal" >*</text>
<text x="260.3" y="1056" font-size="13.8" text-anchor="start" font-weight="normal" font-style="normal" >*, P &lt; 0.05 (N = 10)</text>
<line x1="152.5" y1="1063.8" x2="379.9" y2="1063.8" stroke="#000" stroke-width="2.0" />
<line x1="153.5" y1="1063.8" x2="153.5" y2="1069.3" stroke="#000" stroke-width="2.0" />
<text x="153.8" y="1086.4" font-size="13.0" text-anchor="middle" font-weight="normal" font-style="normal" class="tk">1.0</text>
<line x1="209.9" y1="1063.8" x2="209.9" y2="1069.3" stroke="#000" stroke-width="2.0" />
<text x="210.20000000000002" y="1086.4" font-size="13.0" text-anchor="middle" font-weight="normal" font-style="normal" class="tk">1.5</text>
<line x1="266.3" y1="1063.8" x2="266.3" y2="1069.3" stroke="#000" stroke-width="2.0" />
<text x="266.6" y="1086.4" font-size="13.0" text-anchor="middle" font-weight="normal" font-style="normal" class="tk">2.0</text>
<line x1="322.7" y1="1063.8" x2="322.7" y2="1069.3" stroke="#000" stroke-width="2.0" />
<text x="323.0" y="1086.4" font-size="13.0" text-anchor="middle" font-weight="normal" font-style="normal" class="tk">2.5</text>
<line x1="379.1" y1="1063.8" x2="379.1" y2="1069.3" stroke="#000" stroke-width="2.0" />
<text x="379.40000000000003" y="1086.4" font-size="13.0" text-anchor="middle" font-weight="normal" font-style="normal" class="tk">3.0</text>
<text x="188.5" y="1102.7" font-style="italic" font-size="16.3">Peak value of <tspan letter-spacing="-0.6">F/F</tspan><tspan font-size="11.5" dy="2.5" dx="1.5">0 cAMP</tspan></text>
</svg>
</body></html>
